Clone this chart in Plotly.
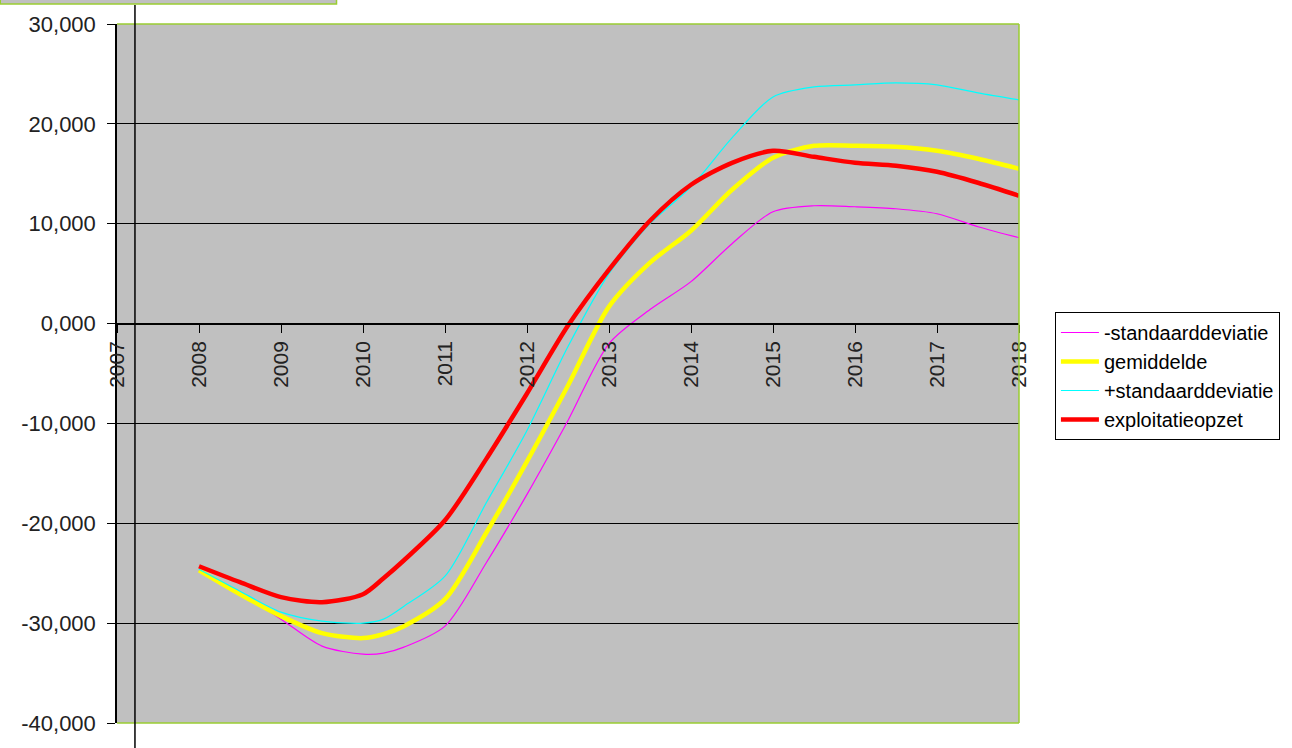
import plotly.graph_objects as go

# Years on the category axis and the sample points of each series (values in thousands)
years = list(range(2007, 2019))
x_points = [2008, 2008.5, 2009, 2009.5, 2010, 2010.25, 2010.5, 2011, 2011.5, 2012,
            2012.5, 2013, 2013.5, 2014, 2014.5, 2015, 2015.5, 2016, 2016.5, 2017,
            2017.5, 2018]

min_std = [-24.7, -27.0, -29.6, -32.3, -33.1, -33.0, -32.4, -30.3, -24.0, -17.1,
           -9.7, -2.0, 1.4, 4.2, 8.0, 11.2, 11.8, 11.7, 11.5, 11.0, 9.7, 8.6]
gemiddelde = [-24.7, -27.1, -29.3, -31.0, -31.5, -31.1, -30.3, -27.6, -21.0, -13.8,
              -6.2, 1.7, 6.1, 9.3, 13.4, 16.6, 17.8, 17.8, 17.7, 17.3, 16.5, 15.5]
plus_std = [-24.6, -26.8, -28.9, -29.8, -30.0, -29.6, -28.3, -25.3, -18.0, -10.7,
            -2.3, 5.0, 10.0, 13.7, 18.6, 22.7, 23.7, 23.9, 24.1, 23.9, 23.1, 22.4]
exploitatie = [-24.3, -25.9, -27.4, -27.9, -27.1, -25.5, -23.7, -19.7, -13.6, -7.0,
               -0.2, 5.4, 10.3, 13.9, 16.1, 17.3, 16.7, 16.1, 15.8, 15.2, 14.1, 12.8]

y_ticks = [30, 20, 10, 0, -10, -20, -30, -40]
y_ticktext = [f"{v:.3f}".replace(".", ",") for v in y_ticks]

FONT = "Liberation Sans, Arial, sans-serif"
GREEN = "#9ACD32"

series = [
    ("-standaarddeviatie", min_std, "#FF00FF", 1.2),
    ("gemiddelde", gemiddelde, "#FFFF00", 4.5),
    ("+standaarddeviatie", plus_std, "#00FFFF", 1.2),
    ("exploitatieopzet", exploitatie, "#FF0000", 4.5),
]

fig = go.Figure()
for name, vals, color, width in series:
    fig.add_trace(go.Scatter(
        x=x_points, y=vals, name=name, mode="lines",
        line=dict(color=color, width=width, shape="spline", smoothing=0.8),
    ))

fig.update_layout(
    width=1292, height=748,
    margin=dict(l=117, r=271, t=24, b=25, pad=0),
    paper_bgcolor="white",
    plot_bgcolor="#C0C0C0",
    font=dict(family=FONT, color="#222222"),
    showlegend=True,
    legend=dict(
        x=(1057 - 117) / 904, y=(723 - 312) / 699,
        xanchor="left", yanchor="top",
        bgcolor="white", bordercolor="black", borderwidth=1,
        font=dict(family=FONT, size=20, color="black"),
        itemwidth=38,
    ),
    xaxis=dict(
        range=[2007, 2018],
        tickvals=years, ticktext=[str(y) for y in years],
        tickangle=-90,
        ticks="outside", ticklen=8, tickcolor="black", tickwidth=1,
        showline=True, linecolor="black", linewidth=1.5,
        anchor="free", position=(723 - 324) / 699,
        showgrid=False, zeroline=False,
        tickfont=dict(family=FONT, size=21, color="#222222"),
    ),
    yaxis=dict(
        range=[-40, 30],
        tickvals=y_ticks, ticktext=y_ticktext,
        ticks="outside", ticklen=8, tickcolor="black", tickwidth=1,
        ticklabelstandoff=7,
        showline=True, linecolor="black", linewidth=1.5,
        showgrid=True, gridcolor="black", gridwidth=1.2,
        zeroline=False,
        tickfont=dict(family=FONT, size=22, color="#222222"),
    ),
)

# green plot-area border on the top, right and bottom sides
for x0, y0, x1, y1 in [(0, 1, 1, 1), (1, 0, 1, 1), (0, 0, 1, 0)]:
    fig.add_shape(type="line", xref="paper", yref="paper",
                  x0=x0, y0=y0, x1=x1, y1=y1,
                  line=dict(color=GREEN, width=1.5), layer="above")

# grey title strip at the top left
fig.add_shape(type="rect", xref="paper", yref="paper",
              x0=(0 - 117) / 904, x1=(337 - 117) / 904,
              y0=(723 - 4) / 699, y1=(723 + 6) / 699,
              fillcolor="#C0C0C0", line=dict(color=GREEN, width=1.5), layer="above")

# vertical divider line crossing the chart
fig.add_shape(type="line", xref="paper", yref="paper",
              x0=(135 - 117) / 904, x1=(135 - 117) / 904,
              y0=(723 - 750) / 699, y1=(723 - 5) / 699,
              line=dict(color="black", width=1.5), layer="above")

fig.write_html("out.html")
